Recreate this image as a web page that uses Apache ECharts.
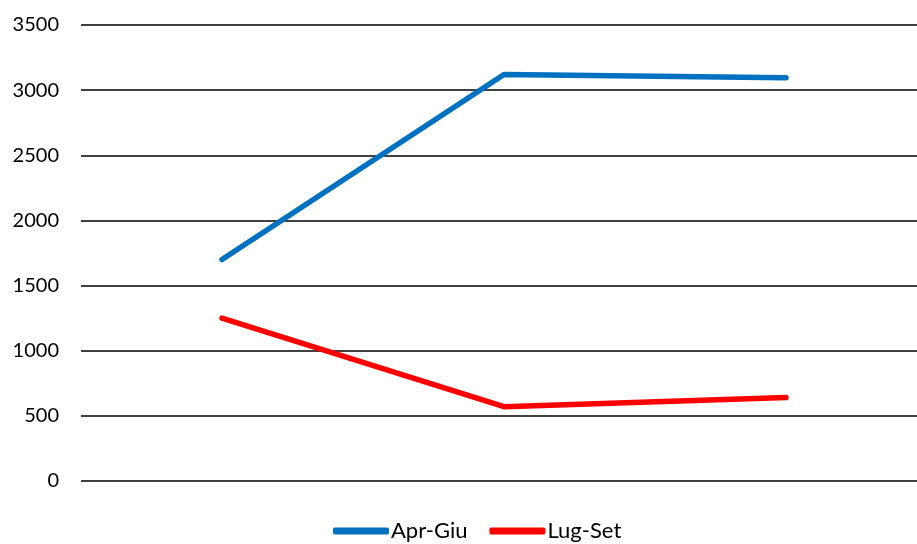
<!DOCTYPE html>
<html>
<head>
<meta charset="utf-8">
<script src="https://cdn.jsdelivr.net/npm/echarts@6/dist/echarts.min.js"></script>
<style>
  html, body { margin: 0; padding: 0; background: #fff; overflow: hidden; }
  #chart { width: 927px; height: 544px; }
</style>
</head>
<body>
<div id="chart"></div>
<script>
// Quarterly values
const categories = ['Q1', 'Q2', 'Q3'];
const seriesNames = ['Apr-Giu', 'Lug-Set'];
const aprGiu = [1700, 3120, 3095];
const lugSet = [1250, 570, 640];
const yTicks = { min: 0, max: 3500, interval: 500 };

const chart = echarts.init(document.getElementById('chart'), null, { renderer: 'canvas' });
const font = 'Lato, "Open Sans", "DejaVu Sans", sans-serif';

chart.setOption({
  animation: false,
  backgroundColor: '#ffffff',
  grid: { left: 81, top: 25, right: 0, height: 456, containLabel: false },
  xAxis: {
    type: 'category',
    data: categories,
    boundaryGap: true,
    axisLine: { show: false },
    axisTick: { show: false },
    axisLabel: { show: false },
    splitLine: { show: false }
  },
  yAxis: {
    type: 'value',
    min: yTicks.min,
    max: yTicks.max,
    interval: yTicks.interval,
    axisLine: { show: false },
    axisTick: { show: false },
    axisLabel: {
      color: '#000', fontSize: 20, fontFamily: font, margin: 22,
      formatter: v => String(v)
    },
    splitLine: { lineStyle: { color: '#000', width: 1.5 } }
  },
  legend: {
    top: 515,
    left: 328,
    itemWidth: 56,
    itemHeight: 7,
    itemGap: 22,
    icon: 'roundRect',
    textStyle: { color: '#000', fontSize: 22, fontFamily: font, padding: [0, 0, 0, -3] },
    data: seriesNames
  },
  series: [
    {
      name: seriesNames[0],
      type: 'line',
      data: aprGiu,
      symbol: 'none',
      color: '#0070C0',
      lineStyle: { width: 5.5, cap: 'round', join: 'round' }
    },
    {
      name: seriesNames[1],
      type: 'line',
      data: lugSet,
      symbol: 'none',
      color: '#FF0000',
      lineStyle: { width: 5.5, cap: 'round', join: 'round' }
    }
  ]
});
</script>
</body>
</html>
